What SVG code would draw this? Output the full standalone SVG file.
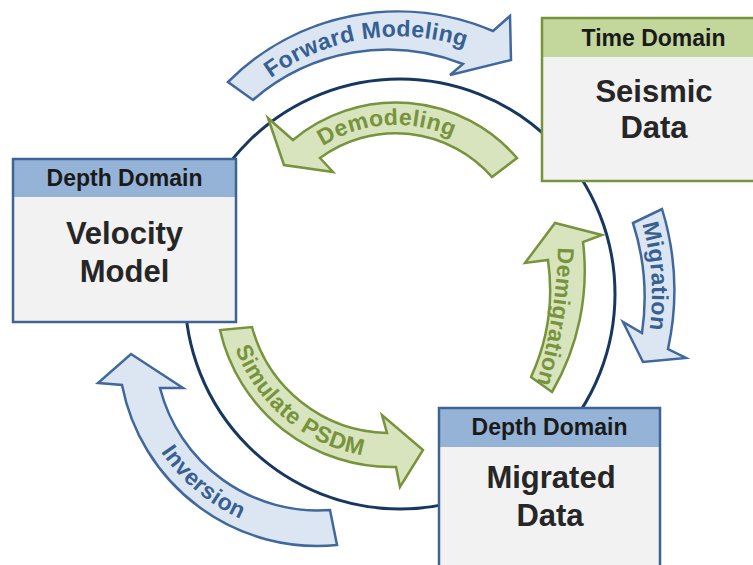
<svg xmlns="http://www.w3.org/2000/svg" width="753" height="565" viewBox="0 0 753 565">
  <defs>
    <style>
      .blue-arrow{fill:#dce6f2;stroke:#41689c;stroke-width:2.5;stroke-linejoin:miter}
      .green-arrow{fill:#d7e4bd;stroke:#77933c;stroke-width:2.5;stroke-linejoin:miter}
      .lbl{font-family:"Liberation Sans",Arial,sans-serif;font-weight:bold;font-size:23px;letter-spacing:0.4px}
      .lbl-blue{fill:#376092}
      .lbl-green{fill:#77933c}
      .body{fill:#f2f2f2}
      .hdr-blue{fill:#95b3d7}
      .hdr-green{fill:#c3d69b}
      .frame-blue{fill:none;stroke:#3d6494;stroke-width:2.5}
      .frame-green{fill:none;stroke:#77933c;stroke-width:2.5}
      .hdr-text{font-family:"Liberation Sans",Arial,sans-serif;font-weight:bold;font-size:23px;fill:#1a1a1a;text-anchor:middle}
      .title{font-family:"Liberation Sans",Arial,sans-serif;font-weight:bold;font-size:31px;fill:#262626;text-anchor:middle}
      .ring{fill:none;stroke:#17375e;stroke-width:3}
    </style>
    <!-- baselines for the curved arrow labels -->
    <path id="tp-forward" d="M187.4,210.1 A214.5,214.5 0 0 1 585.6,147"/>
    <path id="tp-demodel" d="M264.3,224.2 A137,137 0 0 1 521.2,206.3"/>
    <path id="tp-migration" d="M469.5,51.8 A252,252 0 0 1 502.5,524.2"/>
    <path id="tp-demigration" d="M558,225 Q560,315 530,405"/>
    <path id="tp-simulate" d="M235.1,233.9 A167,167 0 0 0 475.5,435.6"/>
    <path id="tp-inversion" d="M140.3,282.7 A188,188 0 0 0 411,509.8"/>
  </defs>

  <!-- central processing loop -->
  <g id="cycle-ring">
    <circle class="ring" cx="400" cy="294" r="215"/>
  </g>

  <g id="connectors">
    <g id="forward-modeling">
      <path class="blue-arrow" d="M228,82 A240,240 0 0 1 493,31 L510,16 L511,60 L450,75 L463,64 A205,205 0 0 0 253,100 Z"/>
      <text class="lbl lbl-blue"><textPath href="#tp-forward" startOffset="50%" text-anchor="middle">Forward Modeling</textPath></text>
    </g>
    <g id="demodeling">
      <path class="green-arrow" d="M517,158 A160,160 0 0 0 293,140 L268,118 L284,165 L333,172 L320,158 A128,128 0 0 1 492,177 Z"/>
      <text class="lbl lbl-green"><textPath href="#tp-demodel" startOffset="50%" text-anchor="middle">Demodeling</textPath></text>
    </g>
    <g id="migration">
      <path class="blue-arrow" d="M662,209 A276,276 0 0 1 668,349 L686,358 L643,362 L623,322 L642,333 A244,244 0 0 0 633,223 Z"/>
      <text class="lbl lbl-blue"><textPath href="#tp-migration" startOffset="50%" text-anchor="middle">Migration</textPath></text>
    </g>
    <g id="demigration">
      <path class="green-arrow" d="M552,392 A240,240 0 0 0 583,242 L602,235 L555,223 L525,263 L548,260 A210,210 0 0 1 531,377 Z"/>
      <text class="lbl lbl-green"><textPath href="#tp-demigration" startOffset="50%" text-anchor="middle">Demigration</textPath></text>
    </g>
    <g id="simulate-psdm">
      <path class="green-arrow" d="M220,330 A176,176 0 0 0 396,467 L400,487 L423,450 L382,415 L387,433 A143,143 0 0 1 252,327 Z"/>
      <text class="lbl lbl-green"><textPath href="#tp-simulate" startOffset="50%" text-anchor="middle">Simulate PSDM</textPath></text>
    </g>
    <g id="inversion">
      <path class="blue-arrow" d="M337,545 A199,199 0 0 1 122,385 L98,383 L131,354 L183,388 L160,388 A163,163 0 0 0 330,510 Z"/>
      <text class="lbl lbl-blue"><textPath href="#tp-inversion" startOffset="50%" text-anchor="middle">Inversion</textPath></text>
    </g>
  </g>

  <g id="velocity-model">
    <rect class="body" x="13" y="159" width="223" height="163"/>
    <rect class="hdr-blue" x="13" y="159" width="223" height="38"/>
    <rect class="frame-blue" x="13" y="159" width="223" height="163"/>
    <text class="hdr-text" x="124.5" y="186">Depth Domain</text>
    <text class="title" x="124.5" y="244">Velocity</text>
    <text class="title" x="124.5" y="282">Model</text>
  </g>

  <g id="seismic-data">
    <rect class="body" x="542" y="18" width="223" height="163"/>
    <rect class="hdr-green" x="542" y="18" width="223" height="39"/>
    <rect class="frame-green" x="542" y="18" width="223" height="163"/>
    <text class="hdr-text" x="653.5" y="46">Time Domain</text>
    <text class="title" x="654" y="102">Seismic</text>
    <text class="title" x="654" y="138">Data</text>
  </g>

  <g id="migrated-data">
    <rect class="body" x="439" y="408" width="221" height="163"/>
    <rect class="hdr-blue" x="439" y="408" width="221" height="39"/>
    <rect class="frame-blue" x="439" y="408" width="221" height="163"/>
    <text class="hdr-text" x="549.5" y="435">Depth Domain</text>
    <text class="title" x="551" y="488">Migrated</text>
    <text class="title" x="550" y="526">Data</text>
  </g>
</svg>
